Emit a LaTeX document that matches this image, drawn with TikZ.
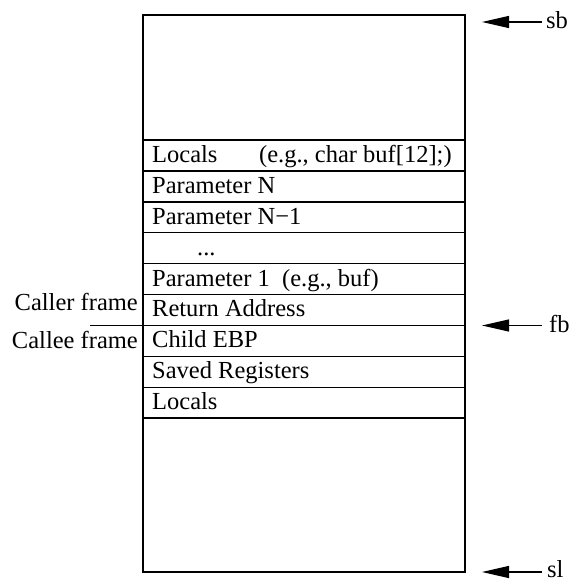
\documentclass[tikz,border=0pt]{standalone}
\usepackage{fontspec}
\setmainfont{Liberation Serif}
\usetikzlibrary{arrows.meta}
\begin{document}
\begin{tikzpicture}[x=1pt,y=-1pt,
  font=\fontsize{24.5}{28}\selectfont,
  frame/.style={line width=1.4pt},
  rowtext/.style={anchor=base west, inner sep=0pt},
  sidetext/.style={anchor=base east, inner sep=0pt},
  ptrlabel/.style={anchor=base west, inner sep=0pt},
  ptr/.style={line width=1.2pt, {Triangle[length=27pt,width=12pt]}-}]
\useasboundingbox (0,0) rectangle (572,583);

% stack outline
\coordinate (tl) at (143,15);
\coordinate (br) at (465,572);
\draw[frame] (tl) rectangle (br);

% slot separators
\foreach \i in {0,...,9}
  \draw[frame] (143,{140+30.9*\i}) -- (465,{140+30.9*\i});

% slot contents (baseline 8.5 above each slot's lower edge)
\node[rowtext] (r0) at (152,{140+30.9*1-8.5}) {Locals\hspace{1.7em}(e.g., char buf[12];)};
\node[rowtext] (r1) at (152,{140+30.9*2-8.5}) {Parameter N};
\node[rowtext] (r2) at (152,{140+30.9*3-8.5}) {Parameter N−1};
\node[rowtext] (r3) at (197,{140+30.9*4-8.5}) {...};
\node[rowtext] (r4) at (152,{140+30.9*5-8.5}) {Parameter 1\hspace{0.5em}(e.g., buf)};
\node[rowtext] (r5) at (152,{140+30.9*6-8.5}) {Return Address};
\node[rowtext] (r6) at (152,{140+30.9*7-8.5}) {Child EBP};
\node[rowtext] (r7) at (152,{140+30.9*8-8.5}) {Saved Registers};
\node[rowtext] (r8) at (152,{140+30.9*9-8.5}) {Locals};

% frame boundary
\node[sidetext] (caller) at (138,310) {Caller frame};
\node[sidetext] (callee) at (138,348) {Callee frame};
\coordinate (divL) at (90,325.5);
\coordinate (divR) at (143,325.5);
\draw[line width=1.2pt] (divL) -- (divR);

% pointers
\coordinate (sbtip) at (482,22);
\coordinate (fbtip) at (482,325.5);
\coordinate (sltip) at (482,572);
\node[ptrlabel] (sb) at (546,29) {sb};
\node[ptrlabel] (fb) at (549,332) {fb};
\node[ptrlabel] (sl) at (547,577) {sl};
\draw[ptr] (sbtip) -- (542,22);
\draw[ptr] (fbtip) -- (542,325.5);
\draw[ptr] (sltip) -- (542,572);
\end{tikzpicture}
\end{document}
